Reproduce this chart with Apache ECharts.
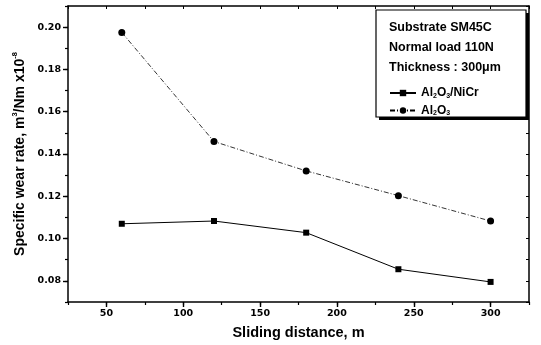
<!DOCTYPE html>
<html>
<head>
<meta charset="utf-8">
<script src="https://cdn.jsdelivr.net/npm/echarts@6/dist/echarts.min.js"></script>
<style>html,body{margin:0;padding:0;background:#fff}#c{width:541px;height:345px}</style>
</head>
<body>
<div id="c"></div>
<script>
const distances = [60, 120, 180, 240, 300];
const nicrValues = [0.107, 0.1083, 0.1028, 0.0855, 0.0795];
const aluminaValues = [0.1975, 0.1459, 0.1320, 0.1203, 0.1083];
const yLabelValues = [0.08, 0.10, 0.12, 0.14, 0.16, 0.18, 0.20];
const xLabelValues = [50, 100, 150, 200, 250, 300];
const boxLines = ['Substrate SM45C', 'Normal load 110N', 'Thickness : 300\u03bcm'];

const FONT = 'Liberation Sans';
const TICKFONT = 'DejaVu Sans';
const chart = echarts.init(document.getElementById('c'), null, {renderer: 'canvas'});
const grid = {left: 68, right: 12, top: 6, bottom: 42};
const lineStyleAxis = {color: '#000', width: 1.5};

function xAxisBase(extra) {
  return Object.assign({
    type: 'value', min: 25, max: 325, interval: 25,
    splitLine: {show: false}
  }, extra);
}
function yAxisBase(extra) {
  return Object.assign({
    type: 'value', min: 0.07, max: 0.21, interval: 0.01,
    splitLine: {show: false}
  }, extra);
}

const option = {
  animation: false,
  backgroundColor: '#fff',
  grid: grid,
  xAxis: [
    xAxisBase({
      position: 'bottom',
      name: 'Sliding distance, m', nameLocation: 'middle', nameGap: 23,
      nameTextStyle: {fontFamily: FONT, fontWeight: 'bold', fontSize: 14.5, color: '#000'},
      axisLine: {lineStyle: lineStyleAxis},
      axisTick: {length: 3, lineStyle: {color: '#000', width: 1.2}},
      axisLabel: {
        fontFamily: TICKFONT, fontWeight: 'bold', fontSize: 9.5, color: '#000', margin: 7,
        formatter: v => (xLabelValues.indexOf(Math.round(v)) >= 0 ? String(Math.round(v)) : '')
      }
    }),
    xAxisBase({
      position: 'bottom',
      axisLine: {show: false},
      axisTick: {length: 5, customValues: xLabelValues, lineStyle: {color: '#000', width: 1.4}},
      axisLabel: {show: false}
    }),
    xAxisBase({
      position: 'top',
      axisLine: {lineStyle: lineStyleAxis},
      axisTick: {inside: true, length: 3, lineStyle: {color: '#000', width: 1}},
      axisLabel: {show: false}
    })
  ],
  yAxis: [
    yAxisBase({
      position: 'left',
      name: 'Specific wear rate, m{sup|3}/Nm x10{sup|-8}',
      nameLocation: 'middle', nameGap: 39,
      nameTextStyle: {fontFamily: FONT, fontWeight: 'bold', fontSize: 14, color: '#000',
        rich: {sup: {fontFamily: FONT, fontWeight: 'bold', fontSize: 7.5, color: '#000', verticalAlign: 'top', padding: [0, 0, 9, 0]}}},
      axisLine: {lineStyle: lineStyleAxis},
      axisTick: {length: 3, lineStyle: {color: '#000', width: 1.2}},
      axisLabel: {
        fontFamily: TICKFONT, fontWeight: 'bold', fontSize: 9.5, color: '#000', margin: 7,
        formatter: v => {
          const r = Math.round(v * 100);
          return (r % 2 === 0 && r >= 8 && r <= 20 && Math.abs(v * 100 - r) < 1e-6) ? (r / 100).toFixed(2) : '';
        }
      }
    }),
    yAxisBase({
      position: 'left',
      axisLine: {show: false},
      axisTick: {length: 5, customValues: yLabelValues, lineStyle: {color: '#000', width: 1.4}},
      axisLabel: {show: false}
    }),
    yAxisBase({
      position: 'right',
      axisLine: {lineStyle: lineStyleAxis},
      axisTick: {inside: true, length: 3, lineStyle: {color: '#000', width: 1}},
      axisLabel: {show: false}
    })
  ],
  legend: {
    orient: 'vertical', left: 384, top: 82, itemGap: 5,
    itemWidth: 26, itemHeight: 8,
    textStyle: {fontFamily: FONT, fontWeight: 'bold', fontSize: 12, color: '#000',
      rich: {sub: {fontFamily: FONT, fontWeight: 'bold', fontSize: 7, color: '#000', verticalAlign: 'bottom', padding: [6, 0, 0, 0]}}},
    formatter: name => name === 'NiCr' ? 'Al{sub|2}O{sub|3}/NiCr' : 'Al{sub|2}O{sub|3}',
    data: ['NiCr', 'Al2O3']
  },
  graphic: [
    {type: 'rect', shape: {x: 379, y: 13, width: 150, height: 107}, style: {fill: '#000'}, z: 1},
    {type: 'rect', shape: {x: 376, y: 10, width: 150, height: 107}, style: {fill: '#fff', stroke: '#000', lineWidth: 1.2}, z: 2}
  ].concat(boxLines.map((t, i) => ({
    type: 'text', left: 389, top: 21 + i * 20, z: 3,
    style: {text: t, fontFamily: FONT, fontWeight: 'bold', fontSize: 12.5, fill: '#000'}
  }))),
  series: [
    {
      name: 'NiCr', type: 'line', xAxisIndex: 0, yAxisIndex: 0, z: 5,
      data: distances.map((d, i) => [d, nicrValues[i]]),
      symbol: 'rect', symbolSize: 6,
      itemStyle: {color: '#000'},
      lineStyle: {color: '#000', width: 1}
    },
    {
      name: 'Al2O3', type: 'line', xAxisIndex: 0, yAxisIndex: 0, z: 5,
      data: distances.map((d, i) => [d, aluminaValues[i]]),
      symbol: 'circle', symbolSize: 7,
      itemStyle: {color: '#000'},
      lineStyle: {color: '#000', width: 0.8, type: [5, 2, 1, 2]}
    }
  ]
};
chart.setOption(option);
</script>
</body>
</html>
